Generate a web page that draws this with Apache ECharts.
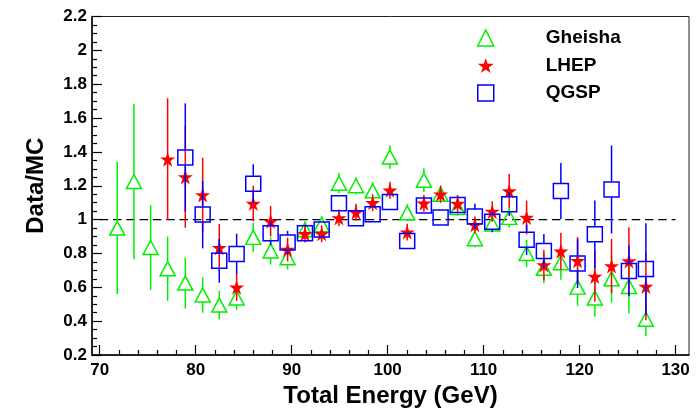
<!DOCTYPE html>
<html><head><meta charset="utf-8">
<script src="https://cdn.jsdelivr.net/npm/echarts@6/dist/echarts.min.js"></script>
<style>html,body{margin:0;padding:0;background:#fff}#c{width:698px;height:413px}</style>
</head><body><div id="c"></div>
<script>
// ---- data ----
const energy = [71.83, 73.57, 75.31, 77.08, 78.92, 80.73, 82.46, 84.27, 86.0, 87.81, 89.58, 91.39, 93.13, 94.93, 96.70, 98.44,
  100.24, 102.04, 103.78, 105.52, 107.29, 109.09, 110.90, 112.67, 114.48, 116.28, 118.05, 119.79, 121.59, 123.33, 125.14, 126.91];
const gheishaVal = [0.95, 1.225, 0.835, 0.71, 0.625, 0.555, 0.495, 0.537, 0.895, 0.815, 0.775, 0.94, 0.97, 1.215, 1.20, 1.17,
  1.37, 1.04, 1.233, 1.15, 1.072, 0.887, 0.974, 1.013, 0.80, 0.712, 0.745, 0.601, 0.537, 0.65, 0.605, 0.411];
const gheishaErr = [0.39, 0.46, 0.25, 0.19, 0.15, 0.105, 0.085, 0.07, 0.085, 0.08, 0.07, 0.05, 0.05, 0.06, 0.05, 0.05,
  0.07, 0.05, 0.07, 0.05, 0.05, 0.05, 0.05, 0.06, 0.08, 0.09, 0.10, 0.11, 0.11, 0.14, 0.16, 0.10];
const lhepVal = [null, null, null, 1.357, 1.252, 1.146, 0.834, 0.60, 1.095, 0.99, 0.823, 0.916, 0.916, 1.01, 1.043, 1.10,
  1.173, 0.926, 1.097, 1.15, 1.095, 0.969, 1.048, 1.169, 1.013, 0.732, 0.813, 0.757, 0.664, 0.726, 0.755, 0.605];
const lhepErr = [null, null, null, 0.36, 0.30, 0.22, 0.14, 0.08, 0.105, 0.09, 0.07, 0.05, 0.05, 0.05, 0.05, 0.05,
  0.05, 0.05, 0.05, 0.05, 0.05, 0.05, 0.06, 0.10, 0.10, 0.09, 0.11, 0.14, 0.15, 0.16, 0.20, 0.20];
const qgspVal = [null, null, null, null, 1.367, 1.03, 0.757, 0.797, 1.212, 0.92, 0.864, 0.92, 0.942, 1.097, 1.008, 1.031,
  1.104, 0.873, 1.083, 1.013, 1.087, 1.019, 0.988, 1.091, 0.881, 0.815, 1.169, 0.741, 0.913, 1.178, 0.697, 0.708];
const qgspErr = [null, null, null, null, 0.32, 0.20, 0.13, 0.12, 0.115, 0.07, 0.07, 0.05, 0.04, 0.04, 0.04, 0.04,
  0.04, 0.04, 0.04, 0.04, 0.05, 0.075, 0.06, 0.07, 0.09, 0.10, 0.165, 0.145, 0.20, 0.26, 0.15, 0.27];
const refLine = [[70, 1], [130, 1]];
const xMajorTicks = [70, 80, 90, 100, 110, 120, 130];
const xMinorTicks = [72, 74, 76, 78, 82, 84, 86, 88, 92, 94, 96, 98, 102, 104, 106, 108, 112, 114, 116, 118, 122, 124, 126, 128];
const seriesNames = ['Gheisha', 'LHEP', 'QGSP'];

// ---- chart ----
const FONT = '"Liberation Sans", Arial, Helvetica, sans-serif';
const STAR = 'path://M50,0 L61,35 L98,35 L68,57 L79,91 L50,70 L21,91 L32,57 L2,35 L39,35 Z';
const GREEN = '#00f000', RED = '#ff0000', BLUE = '#0000ff';

function pts(vals) { return energy.map((e, i) => [e, vals[i]]).filter(p => p[1] != null); }
function errs(vals, es) {
  return energy.map((e, i) => vals[i] == null ? null : [e, vals[i] - es[i], vals[i] + es[i], vals[i]]).filter(p => p);
}
function errSeries(name, vals, es, color, gap, z) {
  return {
    type: 'custom', name: name, z: z, silent: true,
    data: errs(vals, es), encode: { x: 0, y: [1, 2] },
    renderItem: function (params, api) {
      const x = api.value(0), lo = api.value(1), hi = api.value(2), v = api.value(3);
      const pl = api.coord([x, lo]), ph = api.coord([x, hi]), pc = api.coord([x, v]);
      const style = { stroke: color, lineWidth: 1.5 };
      const ch = [];
      if (pc[1] - gap > ph[1]) ch.push({ type: 'line', shape: { x1: pc[0], y1: ph[1], x2: pc[0], y2: pc[1] - gap }, style: style });
      if (pl[1] > pc[1] + gap) ch.push({ type: 'line', shape: { x1: pc[0], y1: pc[1] + gap, x2: pc[0], y2: pl[1] }, style: style });
      return { type: 'group', children: ch };
    }
  };
}

const chart = echarts.init(document.getElementById('c'), null, { renderer: 'canvas' });
const labelStyle = { color: '#000', fontSize: 17, fontWeight: 'bold', fontFamily: FONT };
chart.setOption({
  animation: false,
  backgroundColor: '#fff',
  grid: { left: 92, right: 9, top: 16.5, bottom: 53.5, show: true, borderColor: '#222', borderWidth: 1, backgroundColor: 'transparent' },
  legend: {
    orient: 'vertical', left: 472, top: 23, itemWidth: 16, itemHeight: 16, itemGap: 7.5,
    textStyle: Object.assign({}, labelStyle, { fontSize: 19, lineHeight: 20, padding: [0, 0, 0, 47] }),
    data: [
      { name: seriesNames[0], icon: 'triangle', itemStyle: { color: 'rgba(0,0,0,0)', borderColor: GREEN, borderWidth: 1.5 } },
      { name: seriesNames[1], icon: STAR, itemStyle: { color: RED, borderWidth: 0 } },
      { name: seriesNames[2], icon: 'rect', itemStyle: { color: 'rgba(0,0,0,0)', borderColor: BLUE, borderWidth: 1.5 } }
    ],
    selectedMode: false
  },
  xAxis: [{
    type: 'value', min: 69.2, max: 131.4, position: 'bottom',
    axisLine: { show: true, onZero: false, lineStyle: { color: '#000', width: 1.5 } },
    axisTick: { show: true, inside: true, length: 10, customValues: xMajorTicks, lineStyle: { color: '#000', width: 1.2 } },
    axisLabel: Object.assign({ customValues: xMajorTicks, margin: 7 }, labelStyle),
    splitLine: { show: false },
    name: 'Total Energy (GeV)', nameLocation: 'middle', nameGap: 29,
    nameTextStyle: { color: '#000', fontSize: 24, fontWeight: 'bold', fontFamily: FONT }
  }, {
    type: 'value', min: 69.2, max: 131.4, position: 'bottom',
    axisLine: { show: false, onZero: false },
    axisTick: { show: true, inside: true, length: 5, customValues: xMinorTicks, lineStyle: { color: '#000', width: 1.2 } },
    axisLabel: { show: false }, splitLine: { show: false }
  }],
  yAxis: {
    type: 'value', min: 0.2, max: 2.2, interval: 0.2,
    axisLine: { show: true, onZero: false, lineStyle: { color: '#000', width: 1.5 } },
    axisTick: { show: true, inside: true, length: 10, lineStyle: { color: '#000', width: 1.2 } },
    minorTick: { show: true, splitNumber: 4, length: 5, lineStyle: { color: '#000', width: 1.2 } },
    splitLine: { show: false }, minorSplitLine: { show: false },
    axisLabel: Object.assign({ margin: 5, formatter: v => String(Math.round(v * 10) / 10) }, labelStyle),
    name: 'Data/MC', nameLocation: 'middle', nameGap: 44,
    nameTextStyle: { color: '#000', fontSize: 24, fontWeight: 'bold', fontFamily: FONT }
  },
  series: [
    { type: 'line', name: 'ref', data: refLine, symbol: 'none', silent: true, z: 1,
      lineStyle: { color: '#000', width: 1.2, type: [8.5, 4.8] } },
    errSeries('Gheisha err', gheishaVal, gheishaErr, GREEN, 7, 2),
    { type: 'scatter', name: seriesNames[0], data: pts(gheishaVal), symbol: 'triangle', symbolSize: [15, 14], z: 3,
      itemStyle: { color: 'rgba(0,0,0,0)', borderColor: GREEN, borderWidth: 1.5, opacity: 1 } },
    errSeries('LHEP err', lhepVal, lhepErr, RED, 0, 4),
    { type: 'scatter', name: seriesNames[1], data: pts(lhepVal), symbol: STAR, symbolSize: 15, z: 5,
      itemStyle: { color: RED, opacity: 1 } },
    errSeries('QGSP err', qgspVal, qgspErr, BLUE, 7.5, 6),
    { type: 'scatter', name: seriesNames[2], data: pts(qgspVal), symbol: 'rect', symbolSize: 15, z: 7,
      itemStyle: { color: 'rgba(0,0,0,0)', borderColor: BLUE, borderWidth: 1.5, opacity: 1 } }
  ]
});
</script>
</body></html>
